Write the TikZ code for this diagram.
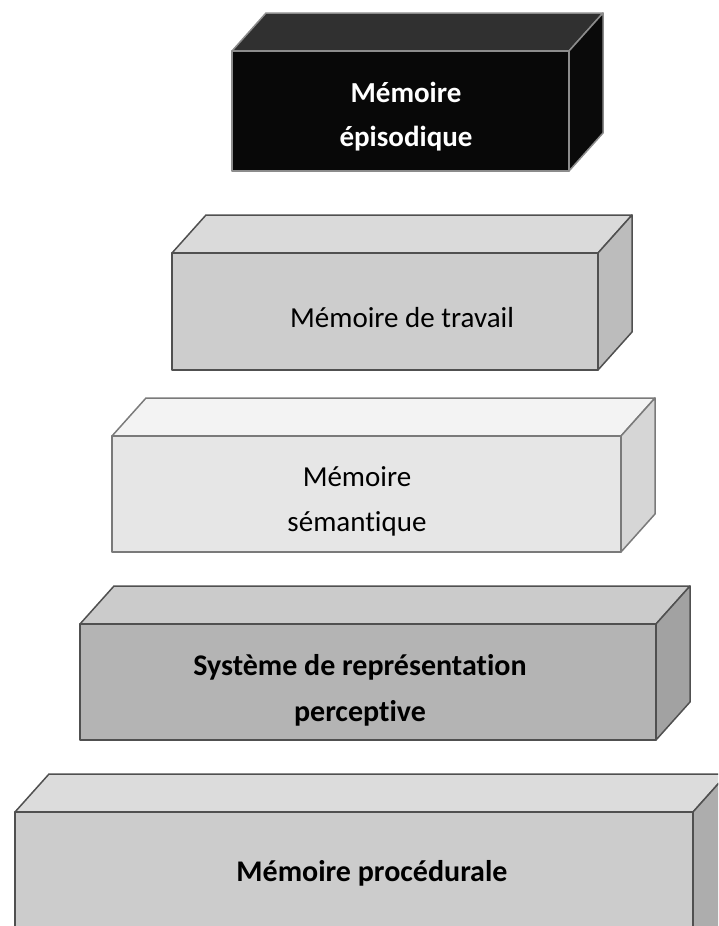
\documentclass[tikz,border=0pt]{standalone}
\usepackage{fontspec}
\setmainfont{Carlito}[Ligatures={NoCommon}]
\usepackage{tikz}

\definecolor{epiFront}{HTML}{080808}
\definecolor{epiTop}{HTML}{303030}
\definecolor{epiSide}{HTML}{0A0A0A}
\definecolor{epiEdge}{HTML}{8C8C8C}
\definecolor{travFront}{HTML}{CDCDCD}
\definecolor{travTop}{HTML}{DADADA}
\definecolor{travSide}{HTML}{BCBCBC}
\definecolor{semFront}{HTML}{E6E6E6}
\definecolor{semTop}{HTML}{F3F3F3}
\definecolor{semSide}{HTML}{D6D6D6}
\definecolor{semEdge}{HTML}{7A7A7A}
\definecolor{srpFront}{HTML}{B4B4B4}
\definecolor{srpTop}{HTML}{CBCBCB}
\definecolor{srpSide}{HTML}{A2A2A2}
\definecolor{procFront}{HTML}{CCCCCC}
\definecolor{procTop}{HTML}{DCDCDC}
\definecolor{procSide}{HTML}{ADADAD}
\definecolor{darkEdge}{HTML}{505050}

% boite: name, x1, y1, x2, y2 (front face), front, top, side, edge
\newcommand{\boite}[9]{%
  \coordinate (#1-nw) at (#2,#3);
  \coordinate (#1-se) at (#4,#5);
  \filldraw[fill=#7,draw=#9] (#1-nw) -- ++(34,-38) -- (#4+34,#3-38) -- (#4,#3) -- cycle;
  \filldraw[fill=#8,draw=#9] (#4,#3) -- (#4+34,#3-38) -- (#4+34,#5-38) -- (#1-se) -- cycle;
  \filldraw[fill=#6,draw=#9] (#1-nw) rectangle (#1-se);
}

\begin{document}
\begin{tikzpicture}[x=1pt,y=-1pt,line width=1.5pt,line join=round,
  txt/.style={font=\fontsize{29}{45}\selectfont,align=center,inner sep=0pt},
  txtb/.style={txt,font=\fontsize{30}{46}\selectfont\bfseries}]
\useasboundingbox (0,0) rectangle (718,926);
\clip (0,0) rectangle (718,926);

\boite{epi}{232}{51}{569}{171}{epiFront}{epiTop}{epiSide}{epiEdge}
\boite{trav}{172}{253}{598}{370}{travFront}{travTop}{travSide}{darkEdge}
\boite{sem}{112}{436}{621}{552}{semFront}{semTop}{semSide}{semEdge}
\boite{srp}{80}{624}{656}{740}{srpFront}{srpTop}{srpSide}{darkEdge}
\boite{proc}{15}{812}{693}{970}{procFront}{procTop}{procSide}{darkEdge}

\node[txtb,text=white,font=\fontsize{29}{44}\selectfont\bfseries] (epiT) at (406,117) {Mémoire\\épisodique};
\node[txt] (travT) at (402,318) {Mémoire de travail};
\node[txt] (semT) at (357,501) {Mémoire\\sémantique};
\node[txtb] (srpT) at (360,690) {Système de représentation\\perceptive};
\node[txtb] (procT) at (372,873) {Mémoire procédurale};

\end{tikzpicture}
\end{document}
